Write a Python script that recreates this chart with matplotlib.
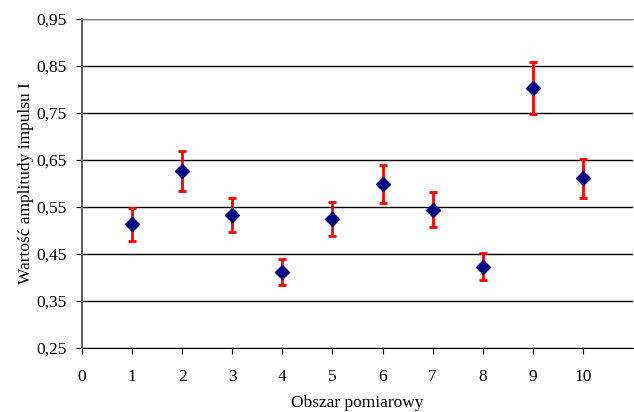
import matplotlib.pyplot as plt
from matplotlib.ticker import FixedLocator, FuncFormatter

plt.rcParams["font.family"] = ["Liberation Serif", "DejaVu Serif"]

# data
obszar = [1, 2, 3, 4, 5, 6, 7, 8, 9, 10]
amplituda = [0.513, 0.627, 0.532, 0.411, 0.524, 0.600, 0.544, 0.423, 0.803, 0.611]
blad_dol = [0.035, 0.043, 0.036, 0.028, 0.035, 0.042, 0.037, 0.029, 0.055, 0.041]
blad_gora = [0.034, 0.042, 0.037, 0.028, 0.037, 0.040, 0.037, 0.029, 0.055, 0.042]
y_ticks = [0.25, 0.35, 0.45, 0.55, 0.65, 0.75, 0.85, 0.95]
x_ticks = list(range(0, 11))

fig = plt.figure(figsize=(6.34, 4.12), dpi=100)
ax = fig.add_axes([82 / 634, 1 - 348 / 412, (633 - 82) / 634, (348 - 19) / 412])

ax.errorbar(
    obszar,
    amplituda,
    yerr=[blad_dol, blad_gora],
    fmt="D",
    color="#000080",
    markersize=7,
    ecolor="#ff0000",
    elinewidth=2,
    capsize=3,
    capthick=2,
    zorder=5,
)

ax.set_xlim(0, 11)
ax.set_ylim(0.25, 0.95)
ax.xaxis.set_major_locator(FixedLocator(x_ticks))
ax.yaxis.set_major_locator(FixedLocator(y_ticks))
ax.yaxis.set_major_formatter(FuncFormatter(lambda v, p: f"{v:.2f}".replace(".", ",")))

ax.grid(axis="y", color="black", linewidth=1)
ax.set_axisbelow(True)

ax.spines["right"].set_visible(False)
ax.spines["top"].set_color("#808080")
ax.spines["left"].set_color("#606060")
ax.spines["left"].set_linewidth(1.5)
ax.spines["bottom"].set_color("black")

ax.tick_params(axis="both", labelsize=12.5, length=4, direction="out", pad=7)
ax.tick_params(axis="x", pad=11)

ax.set_xlabel("Obszar pomiarowy", fontsize=12.5, labelpad=7)
ax.set_ylabel("Wartość amplitudy impulsu I", fontsize=12.5, labelpad=2)

fig.savefig("out.png", dpi=100)
